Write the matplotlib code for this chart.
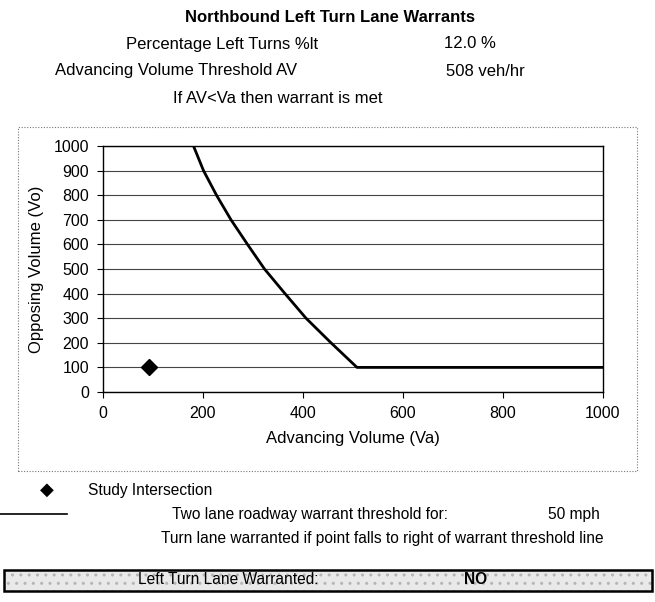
"""
Northbound left turn lane warrant chart (opposing vs advancing volume).
Writes out.png
"""

import matplotlib
matplotlib.use("Agg")
import matplotlib.pyplot as plt
from matplotlib.patches import Rectangle
from matplotlib.lines import Line2D

plt.rcParams["font.family"] = ["Liberation Sans", "DejaVu Sans"]

W, H = 655, 602

# warrant threshold curve, 50 mph, 12% left turns (flat past the 508 veh/hr threshold)
threshold_va = [181, 201, 227, 256, 289, 323, 364, 406, 456, 508, 1000]
threshold_vo = [1000, 900, 800, 700, 600, 500, 400, 300, 200, 100, 100]

# study intersection
study_va = [92]
study_vo = [100]

x_ticks = [0, 200, 400, 600, 800, 1000]
y_ticks = [0, 100, 200, 300, 400, 500, 600, 700, 800, 900, 1000]

header_labels = ["Percentage Left Turns %lt", "Advancing Volume Threshold AV"]
header_values = ["12.0 %", "508 veh/hr"]
speed_label = "50 mph"
warranted = "NO"


def fx(px):
    return px / W


def fy(py):
    return 1 - py / H


fig = plt.figure(figsize=(W / 100, H / 100), dpi=100)
fs = 12
fs_small = 11.2

# header text
fig.text(fx(330), fy(18), "Northbound Left Turn Lane Warrants", ha="center", va="center",
         fontsize=fs, fontweight="bold")
fig.text(fx(222), fy(44), header_labels[0], ha="center", va="center", fontsize=fs)
fig.text(fx(444), fy(44), header_values[0], ha="left", va="center", fontsize=fs)
fig.text(fx(176), fy(71), header_labels[1], ha="center", va="center", fontsize=fs)
fig.text(fx(446), fy(71), header_values[1], ha="left", va="center", fontsize=fs)
fig.text(fx(278), fy(98), "If AV<Va then warrant is met", ha="center", va="center", fontsize=fs)

# dotted chart frame
fig.patches.append(Rectangle((fx(18), fy(471)), fx(637) - fx(18), fy(127) - fy(471),
                             transform=fig.transFigure, fill=False, edgecolor="#777777",
                             linestyle=(0, (1, 1.5)), linewidth=0.8))

ax = fig.add_axes([fx(103), fy(392), fx(603) - fx(103), fy(146) - fy(392)])
ax.plot(threshold_va, threshold_vo, color="black", linewidth=2.0, solid_joinstyle="round")
ax.plot(study_va, study_vo, marker="D", markersize=8, color="black", linestyle="none",
        clip_on=False, zorder=5)

ax.set_xlim(0, 1000)
ax.set_ylim(0, 1000)
ax.set_xticks(x_ticks)
ax.set_yticks(y_ticks)
ax.tick_params(labelsize=11.5, direction="out", length=4, width=0.8, pad=6)
ax.yaxis.grid(True, color="#444444", linewidth=0.8)
ax.set_axisbelow(True)
for s in ax.spines.values():
    s.set_color("black")
    s.set_linewidth(1.0)
ax.set_xlabel("Advancing Volume (Va)", fontsize=fs, labelpad=7)
ax.set_ylabel("Opposing Volume (Vo)", fontsize=fs, labelpad=7)

# legend rows below the chart
fig.text(fx(47), fy(490), "\u25C6", ha="center", va="center", fontsize=13,
         family=["DejaVu Sans"])
fig.text(fx(88), fy(490), "Study Intersection", ha="left", va="center", fontsize=fs_small)
fig.lines.append(Line2D([fx(0), fx(67)], [fy(514), fy(514)], transform=fig.transFigure,
                        color="black", linewidth=1.2))
fig.text(fx(172), fy(514), "Two lane roadway warrant threshold for:", ha="left",
         va="center", fontsize=fs_small)
fig.text(fx(548), fy(514), speed_label, ha="left", va="center", fontsize=fs_small)
fig.text(fx(382), fy(538), "Turn lane warranted if point falls to right of warrant threshold line",
         ha="center", va="center", fontsize=fs_small)

# result box with light stipple
box = (fx(4), fy(591)), fx(652) - fx(4), fy(570) - fy(591)
fig.patches.append(Rectangle(*box, transform=fig.transFigure, facecolor="#e9e9e9",
                             edgecolor="#b5b5b5", linewidth=0, hatch=".."))
fig.patches.append(Rectangle(*box, transform=fig.transFigure, fill=False,
                             edgecolor="black", linewidth=1.8))
fig.text(fx(228), fy(580), "Left Turn Lane Warranted:", ha="center", va="center",
         fontsize=fs_small)
fig.text(fx(476), fy(580), warranted, ha="center", va="center", fontsize=fs_small,
         fontweight="bold")

fig.savefig("out.png", dpi=100)
